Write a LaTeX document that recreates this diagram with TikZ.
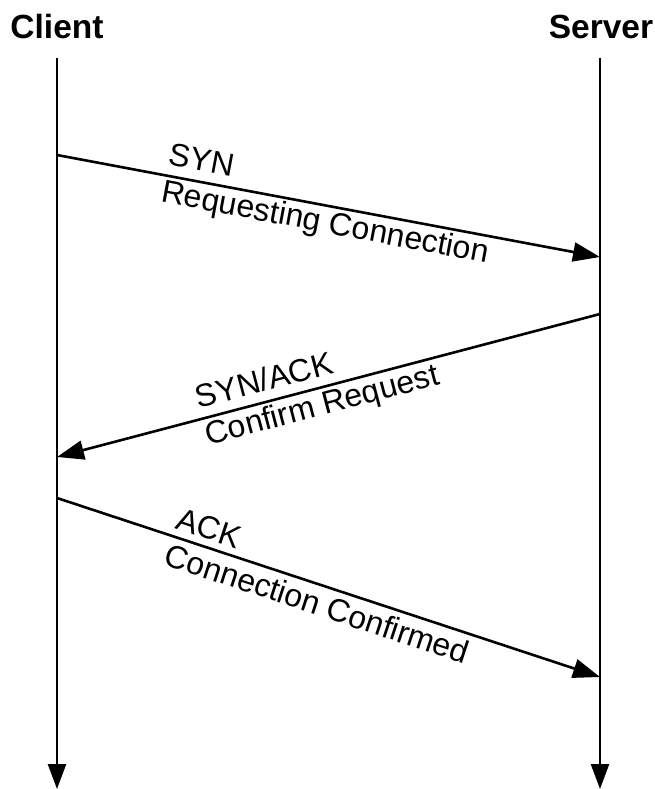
\documentclass[tikz,border=0pt]{standalone}
\usepackage{fontspec}
\setmainfont{Liberation Sans}
\usetikzlibrary{arrows.meta}
\begin{document}
\begin{tikzpicture}[x=1pt,y=-1pt,
  life/.style={line width=2.6pt,-{Triangle[length=25pt,width=18pt]}},
  msg/.style={line width=2.6pt,-{Triangle[length=27pt,width=19pt]}},
  title/.style={font=\fontsize{33.5}{40}\selectfont\bfseries,inner sep=0pt,anchor=base},
  lbl/.style={font=\fontsize{32}{38}\selectfont,align=left,sloped,inner sep=0pt}]
\useasboundingbox (0,0) rectangle (655,789);
\node[title] (client) at (57,39) {Client};
\node[title] (server) at (601,39) {Server};
\coordinate (c0) at (57,58);
\coordinate (c1) at (57,789);
\coordinate (s0) at (600,58);
\coordinate (s1) at (600,789);
\draw[life] (c0) -- (c1);
\draw[life] (s0) -- (s1);
\coordinate (a1) at (57,155);
\coordinate (b1) at (600,257);
\coordinate (a2) at (600,314);
\coordinate (b2) at (57,457);
\coordinate (a3) at (57,498);
\coordinate (b3) at (600,677);
\draw[msg] (a1) -- node[lbl,pos=0.5] {SYN\\Requesting Connection} (b1);
\draw[msg] (a2) -- node[lbl,pos=0.52] {SYN/ACK\\Confirm Request} (b2);
\draw[msg] (a3) -- node[lbl,pos=0.49] {ACK\\Connection Confirmed} (b3);
\end{tikzpicture}
\end{document}
